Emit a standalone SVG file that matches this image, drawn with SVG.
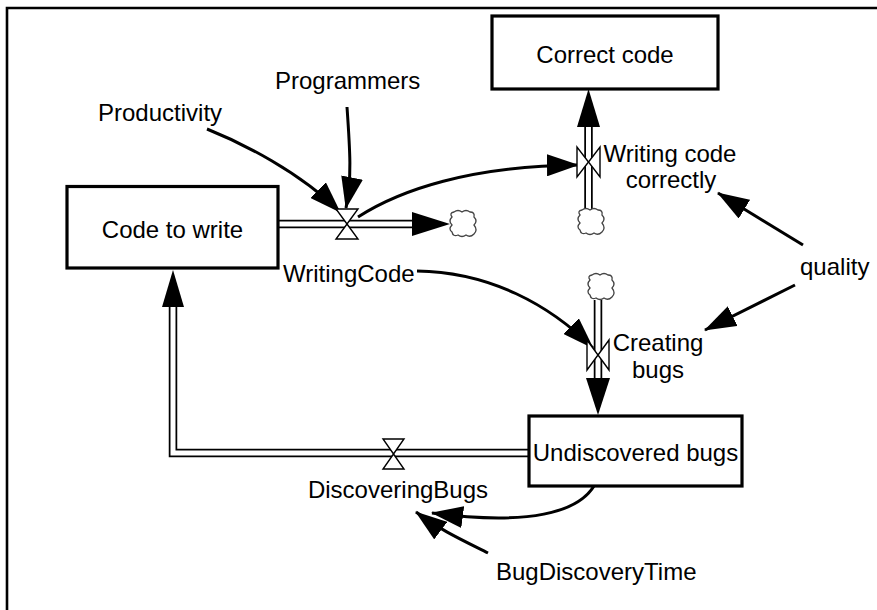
<svg xmlns="http://www.w3.org/2000/svg" xmlns:xlink="http://www.w3.org/1999/xlink" width="877" height="610" viewBox="0 0 877 610">
  <style>
    text { font-family: "Liberation Sans", Arial, sans-serif; font-size: 24px; fill: #000; }
    .mid { text-anchor: middle; }
    .stock { fill: #fff; stroke: #000; stroke-width: 3.2; }
    .pipe-out { fill: none; stroke: #000; stroke-width: 8.5; stroke-linejoin: miter; }
    .pipe-in { fill: none; stroke: #fff; stroke-width: 5; stroke-linejoin: miter; }
    .head { fill: #000; stroke: none; }
    .link { fill: none; stroke: #000; stroke-width: 3; marker-end: url(#arr); }
    .valve { fill: #fff; stroke: #000; stroke-width: 1.4; stroke-linejoin: miter; }
    .cloud { fill: #fff; stroke: #444; stroke-width: 1.3; }
    .frame { fill: none; stroke: #000; stroke-width: 2.6; }
  </style>
  <defs>
    <marker id="arr" markerUnits="userSpaceOnUse" markerWidth="32" markerHeight="22" viewBox="0 0 32 22" refX="31" refY="11" orient="auto">
      <path d="M0,0 L32,11 L0,22 z" fill="#000"/>
    </marker>
    <path id="cloudShape" d="M-10,-12 q4,-3 8,0 q4,-3 8,0 q5,0 4,5 q4,4 0,8 q4,5 0,9 q-4,4 -8,1 q-4,3 -8,0 q-5,2 -6,-3 q-4,-3 0,-7 q-4,-4 0,-8 q-3,-4 2,-5 z"/>
    <!-- flow pipe centre lines -->
    <path id="pWriting" d="M279,224 H413"/>
    <path id="pCorrect" d="M588.5,211 V126"/>
    <path id="pCreating" d="M598,300 V379"/>
    <path id="pDiscover" d="M530,453 H173 V306"/>
  </defs>

  <!-- page frame -->
  <path class="frame" d="M7,610 V8 H877"/>

  <g id="connectors">
    <!-- material flows -->
    <use xlink:href="#pWriting" class="pipe-out"/>
    <use xlink:href="#pWriting" class="pipe-in"/>
    <polygon class="head" points="412,212 450,224 412,236"/>

    <use xlink:href="#pCorrect" class="pipe-out"/>
    <use xlink:href="#pCorrect" class="pipe-in"/>
    <polygon class="head" points="577,127 588.5,89 600,127"/>

    <use xlink:href="#pCreating" class="pipe-out"/>
    <use xlink:href="#pCreating" class="pipe-in"/>
    <polygon class="head" points="586,378 598,415 610,378"/>

    <use xlink:href="#pDiscover" class="pipe-out"/>
    <use xlink:href="#pDiscover" class="pipe-in"/>
    <polygon class="head" points="162,307 173,270 184,307"/>

    <!-- information links -->
    <path class="link" d="M207,129 C242,143 300,172 340,212"/>
    <path class="link" d="M347,107 C350,150 352,178 346,208"/>
    <path class="link" d="M358,217 C400,190 470,166 578,165"/>
    <path class="link" d="M417,271 C490,272 550,305 593,348"/>
    <path class="link" d="M803,245 L718,193"/>
    <path class="link" d="M795,285 L705,330"/>
    <path class="link" d="M594,486 C578,512 530,526 432,513"/>
    <path class="link" d="M488,553 C462,540 440,530 416,512"/>
  </g>

  <!-- stocks -->
  <g id="code-to-write">
    <rect class="stock" x="67" y="186.5" width="211" height="81.5"/>
    <text class="mid" x="172.5" y="238">Code to write</text>
  </g>
  <g id="correct-code">
    <rect class="stock" x="492" y="16" width="226" height="73"/>
    <text class="mid" x="605" y="63">Correct code</text>
  </g>
  <g id="undiscovered-bugs">
    <rect class="stock" x="529" y="416" width="213" height="70"/>
    <text class="mid" x="635.5" y="461">Undiscovered bugs</text>
  </g>

  <!-- clouds -->
  <g id="cloud-writing"><use xlink:href="#cloudShape" class="cloud" transform="translate(464,224)"/></g>
  <g id="cloud-correct"><use xlink:href="#cloudShape" class="cloud" transform="translate(592,222)"/></g>
  <g id="cloud-creating"><use xlink:href="#cloudShape" class="cloud" transform="translate(602,287)"/></g>

  <!-- flows -->
  <g id="writing-code">
    <polygon class="valve" points="336,209 358,209 347,224"/>
    <polygon class="valve" points="336,239 358,239 347,224"/>
    <text x="283" y="282">WritingCode</text>
  </g>
  <g id="writing-code-correctly">
    <polygon class="valve" points="577,147 577,177 588.5,162"/>
    <polygon class="valve" points="600,147 600,177 588.5,162"/>
    <text class="mid" x="670" y="162">Writing code</text>
    <text class="mid" x="671" y="188">correctly</text>
  </g>
  <g id="creating-bugs">
    <polygon class="valve" points="587,340 587,370 598,355"/>
    <polygon class="valve" points="609,340 609,370 598,355"/>
    <text class="mid" x="658" y="351">Creating</text>
    <text class="mid" x="658" y="378">bugs</text>
  </g>
  <g id="discovering-bugs">
    <polygon class="valve" points="383,439 404,439 393.5,454"/>
    <polygon class="valve" points="383,469 404,469 393.5,454"/>
    <text class="mid" x="398" y="498">DiscoveringBugs</text>
  </g>

  <!-- auxiliaries -->
  <g id="productivity"><text x="98" y="121">Productivity</text></g>
  <g id="programmers"><text x="275" y="89">Programmers</text></g>
  <g id="quality"><text x="800" y="275">quality</text></g>
  <g id="bug-discovery-time"><text x="496" y="580">BugDiscoveryTime</text></g>
</svg>
